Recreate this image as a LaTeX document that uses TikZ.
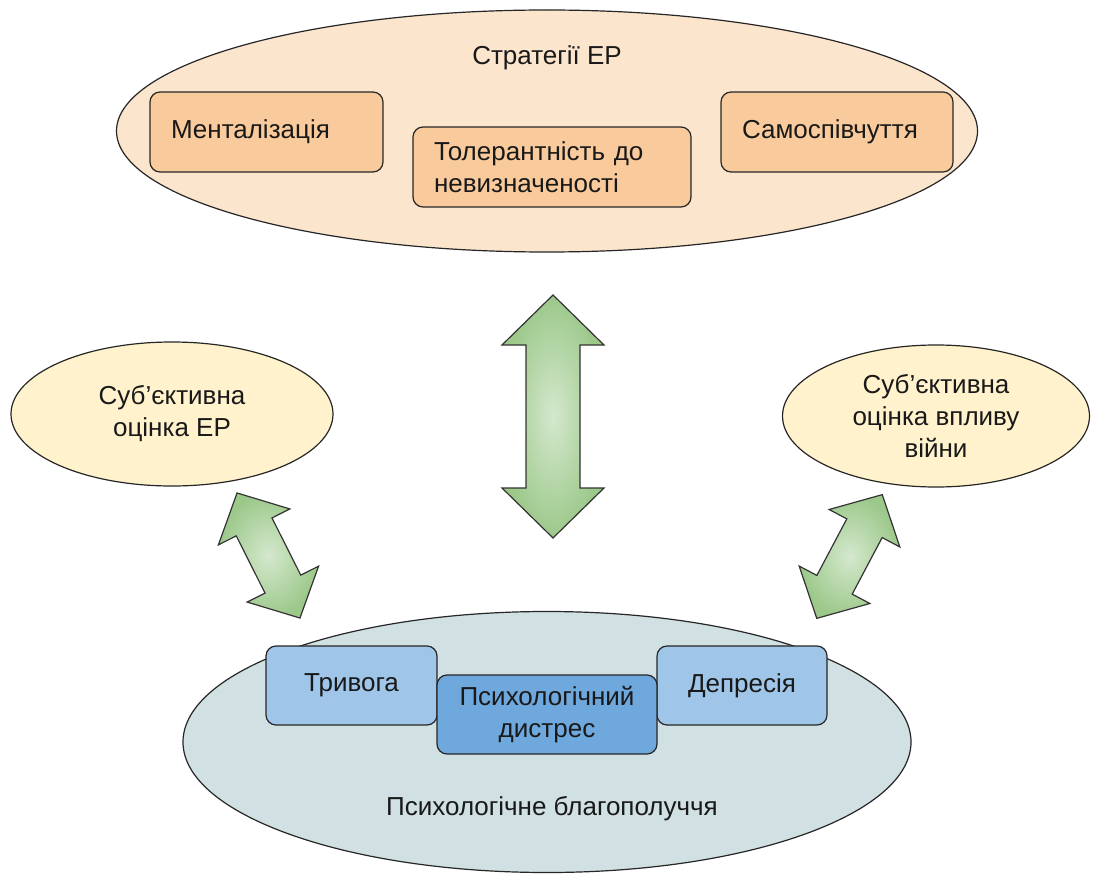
\documentclass[tikz,border=0pt]{standalone}
\usepackage{fontspec}
\setmainfont{Liberation Sans}
\usetikzlibrary{shapes.geometric}

\definecolor{peachbg}{HTML}{FCE5CD}
\definecolor{peachbox}{HTML}{F9CB9C}
\definecolor{creambg}{HTML}{FFF2CC}
\definecolor{cyanbg}{HTML}{D0E0E3}
\definecolor{bluebox}{HTML}{9FC5E8}
\definecolor{bluemid}{HTML}{6FA8DC}
\definecolor{arrowgreen}{HTML}{9CC88A}
\definecolor{arrowlight}{HTML}{D4E8CD}

\begin{document}
\begin{tikzpicture}[x=1pt, y=-1pt,
		every node/.style={font=\fontsize{26}{32}\selectfont, text=black!90},
		oval/.style={ellipse, draw=black!85, line width=1.2pt, inner sep=0pt, align=center},
		orangebox/.style={rectangle, rounded corners=10pt, draw=black!85, line width=1.2pt,
			fill=peachbox, inner xsep=21pt, minimum height=80pt, align=left},
		bluebx/.style={rectangle, rounded corners=10pt, draw=black!85, line width=1.2pt,
			fill=bluebox, minimum height=79pt, align=center},
		twoway/.style={draw=black!80, line width=1.2pt, line join=miter,
			inner color=arrowlight, outer color=arrowgreen}]
			\useasboundingbox (0,0) rectangle (1099,877);
			% emotion regulation strategies
			\node[oval, fill=peachbg, minimum width=861pt, minimum height=242pt] (strat) at (547,131) {};
			\node (stratlabel) at (547,58) {Стратегії ЕР};
			\node[orangebox, text width=191pt] (mental) at (266.5,132) {Менталізація};
			\node[orangebox, text width=236pt] (toler) at (552,167) {Толерантність до\\невизначеності};
			\node[orangebox, text width=190pt] (selfcomp) at (837,132) {Самоспівчуття};
			% subjective appraisals
			\node[oval, fill=creambg, minimum width=322pt, minimum height=144pt] (subjer) at (172,414)
				{Суб’єктивна\\оцінка ЕР};
			\node[oval, fill=creambg, minimum width=307pt, minimum height=142pt] (subjwar) at (936,416)
				{Суб’єктивна\\оцінка впливу\\війни};
			% wellbeing
			\node[oval, fill=cyanbg, minimum width=728pt, minimum height=261pt] (wellb) at (547,742) {};
			\node (wellblabel) at (552,809) {Психологічне благополуччя};
			\node[bluebx, minimum width=171pt] (anx) at (351.5,685.5) {Тривога};
			\node[bluebx, minimum width=170pt] (depr) at (742,685.5) {Депресія};
			\node[bluebx, fill=bluemid, minimum width=220pt] (distress) at (547,714.5) {Психологічний\\дистрес};
			% two-way arrows
			\foreach \cx/\cy/\ang/\len/\hl/\hw/\sw in {553/416.5/90/243/50/51/27,
				268.5/555.5/-63.3/140/38/40/20, 849.5/556.5/62.1/140/38/40/20}
				\path[twoway, shift={(\cx,\cy)}, rotate=\ang]
					({-\len/2},0) -- ({-\len/2+\hl},\hw) -- ({-\len/2+\hl},\sw) -- ({\len/2-\hl},\sw)
					-- ({\len/2-\hl},\hw) -- ({\len/2},0) -- ({\len/2-\hl},-\hw) -- ({\len/2-\hl},-\sw)
					-- ({-\len/2+\hl},-\sw) -- ({-\len/2+\hl},-\hw) -- cycle;
		\end{tikzpicture}
\end{document}
